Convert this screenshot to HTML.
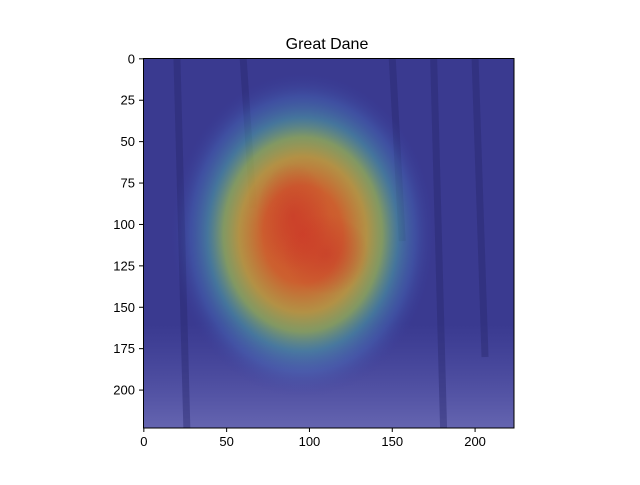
<!DOCTYPE html>
<html><head><meta charset="utf-8"><style>
body{margin:0;background:#fff;width:640px;height:480px;overflow:hidden}
svg{font-family:"Liberation Sans","DejaVu Sans",sans-serif}
</style></head><body>
<svg id="chart" width="640" height="480">
<defs>
<radialGradient id="jet" cx="0.5" cy="0.5" r="0.5">
<stop offset="0" stop-color="#d0482a"/>
<stop offset="0.3" stop-color="#d4622a" stop-opacity="0.95"/>
<stop offset="0.48" stop-color="#c8a038" stop-opacity="0.85"/>
<stop offset="0.6" stop-color="#a0c050" stop-opacity="0.7"/>
<stop offset="0.72" stop-color="#50b0a8" stop-opacity="0.5"/>
<stop offset="0.85" stop-color="#4a80c8" stop-opacity="0.3"/>
<stop offset="1" stop-color="#3a3aa0" stop-opacity="0"/>
</radialGradient>
<radialGradient id="blob" cx="0.5" cy="0.5" r="0.5">
<stop offset="0" stop-color="#c83428" stop-opacity="0.55"/>
<stop offset="1" stop-color="#c83428" stop-opacity="0"/>
</radialGradient>
<linearGradient id="ground" x1="0" y1="0" x2="0" y2="1">
<stop offset="0" stop-color="#5a5ab0" stop-opacity="0"/>
<stop offset="1" stop-color="#7070b8" stop-opacity="0.8"/>
</linearGradient>
<clipPath id="axclip"><rect x="143" y="58" width="371" height="370"/></clipPath>
</defs>
<text x="327" y="49" font-size="16" text-anchor="middle">Great Dane</text>
<g id="img" clip-path="url(#axclip)"></g>
<rect x="143.5" y="58.5" width="370.5" height="369.5" fill="none" stroke="#000" stroke-width="1"/>
<g id="xticks"></g>
<g id="yticks"></g>
</svg>
<script>
const xTicks=[0,50,100,150,200];
const yTicks=[0,25,50,75,100,125,150,175,200];
// activation blobs: [x, y, rx, ry] in data units
const camCenters=[[96,106]];
const camRadii=[[80,98]];
const coreBlobs=[[90,95,22,32],[110,118,26,24]];
const trees=[[20,0,224],[175,0,224],[200,0,180],[60,0,90],[150,0,110]];
const NS="http://www.w3.org/2000/svg";
const x0=143,y0=58,s=371/224;
const sx=v=>x0+(v+0.5)*s, sy=v=>y0+(v+0.5)*s;
function mk(t,a,p){const e=document.createElementNS(NS,t);for(const k in a)e.setAttribute(k,a[k]);p.appendChild(e);return e;}
const img=document.getElementById('img');
let bg=mk('rect',{x:143,y:58,width:371,height:370,fill:'#3a3a90'},img);


mk('rect',{x:143,y:sy(160),width:371,height:428-sy(160),fill:'url(#ground)'},img);
trees.forEach(t=>{
  const l=mk('line',{x1:sx(t[0]),y1:sy(t[1]),x2:sx(t[0]+6),y2:sy(t[2]),stroke:'#2a2a70','stroke-width':7,opacity:0.45},img);
  
  
});
camCenters.forEach((c,i)=>{
  const e=mk('ellipse',{cx:sx(c[0]),cy:sy(c[1]),rx:camRadii[i][0]*s,ry:camRadii[i][1]*s,fill:'url(#jet)'},img);
  
  
});
coreBlobs.forEach(b=>{
  const e=mk('ellipse',{cx:sx(b[0]),cy:sy(b[1]),rx:b[2]*s,ry:b[3]*s,fill:'url(#blob)'},img);
  
  
});
const xg=document.getElementById('xticks');
xTicks.forEach(v=>{
  const g=mk('g',{},xg);
  
  
  mk('line',{x1:sx(v),y1:428,x2:sx(v),y2:432,stroke:'#000'},g);
  const t=mk('text',{x:sx(v),y:446,'font-size':13,'text-anchor':'middle'},g);t.textContent=v;
});
const yg=document.getElementById('yticks');
yTicks.forEach(v=>{
  const g=mk('g',{},yg);
  
  
  mk('line',{x1:139,y1:sy(v),x2:143,y2:sy(v),stroke:'#000'},g);
  const t=mk('text',{x:135,y:sy(v)+4.5,'font-size':13,'text-anchor':'end'},g);t.textContent=v;
});
</script>
</body></html>
